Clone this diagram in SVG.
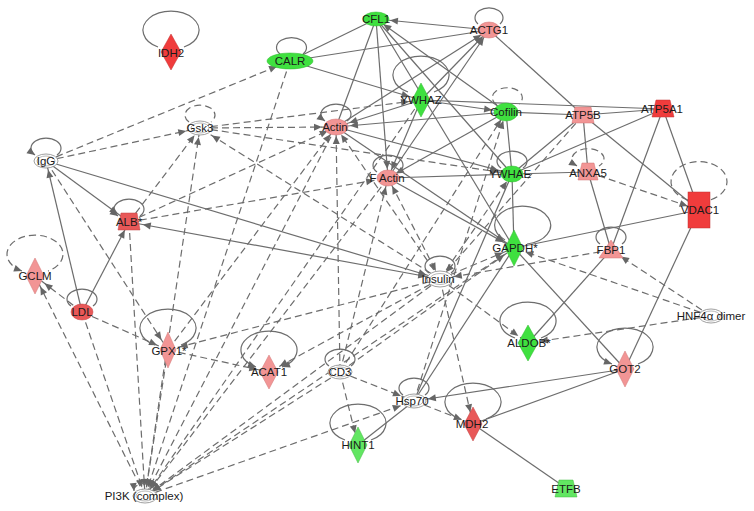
<svg xmlns="http://www.w3.org/2000/svg" width="754" height="511" viewBox="0 0 754 511">
<style>
.s{stroke:#6d6d6d;stroke-width:1.2;fill:none}
.d{stroke:#6d6d6d;stroke-width:1.2;fill:none;stroke-dasharray:7 4}
.lbl{font-family:"Liberation Sans",Arial,sans-serif;font-size:11.5px;fill:#1a1a1a;text-anchor:middle}
.g{fill:#3fe03f;stroke:#30b830;stroke-width:0.5}
.g2{fill:#62e662;stroke:#40b840;stroke-width:0.5}
.p{fill:#f29595;stroke:#d07474;stroke-width:0.5}
.r{fill:#f03c3c;stroke:#c03030;stroke-width:0.5}
.rm{fill:#e85858;stroke:#c04040;stroke-width:0.5}
.w{fill:#fff;stroke:#888;stroke-width:0.8}
.wi{fill:none;stroke:#9a9a9a;stroke-width:0.7}
.ah{fill:#666;stroke:none}
</style>
<defs>
<marker id="m0" markerUnits="userSpaceOnUse" markerWidth="30" markerHeight="10" refX="8" refY="3.5" orient="auto" overflow="visible"><path class="ah" d="M0,0 L8,3.5 L0,7 z"/></marker>
<marker id="m0s" markerUnits="userSpaceOnUse" markerWidth="30" markerHeight="10" refX="8" refY="3.5" orient="auto-start-reverse" overflow="visible"><path class="ah" d="M0,0 L8,3.5 L0,7 z"/></marker>
<marker id="m1" markerUnits="userSpaceOnUse" markerWidth="30" markerHeight="10" refX="17" refY="3.5" orient="auto" overflow="visible"><path class="ah" d="M0,0 L8,3.5 L0,7 z"/></marker>
<marker id="m1s" markerUnits="userSpaceOnUse" markerWidth="30" markerHeight="10" refX="17" refY="3.5" orient="auto-start-reverse" overflow="visible"><path class="ah" d="M0,0 L8,3.5 L0,7 z"/></marker>
<marker id="m2" markerUnits="userSpaceOnUse" markerWidth="30" markerHeight="10" refX="20" refY="3.5" orient="auto" overflow="visible"><path class="ah" d="M0,0 L8,3.5 L0,7 z"/></marker>
<marker id="m3" markerUnits="userSpaceOnUse" markerWidth="30" markerHeight="10" refX="22" refY="3.5" orient="auto" overflow="visible"><path class="ah" d="M0,0 L8,3.5 L0,7 z"/></marker>
<marker id="m3s" markerUnits="userSpaceOnUse" markerWidth="30" markerHeight="10" refX="22" refY="3.5" orient="auto-start-reverse" overflow="visible"><path class="ah" d="M0,0 L8,3.5 L0,7 z"/></marker>
</defs>
<rect width="754" height="511" fill="#fff"/>
<g id="connectors">
<line class="s" x1="290" y1="61" x2="376" y2="19"/>
<line class="s" x1="290" y1="61" x2="489" y2="30"/>
<line class="s" x1="290" y1="61" x2="421" y2="100" marker-end="url(#m2)"/>
<line class="s" x1="376" y1="19" x2="336" y2="127"/>
<line class="s" x1="376" y1="19" x2="388" y2="178" marker-end="url(#m1)"/>
<line class="s" x1="489" y1="30" x2="376" y2="19" marker-end="url(#m3)"/>
<line class="s" x1="506" y1="112" x2="376" y2="19" marker-end="url(#m1)"/>
<line class="s" x1="376" y1="19" x2="514" y2="248"/>
<line class="s" x1="376" y1="19" x2="512" y2="174"/>
<line class="s" x1="421" y1="100" x2="336" y2="127" marker-end="url(#m3)"/>
<line class="s" x1="421" y1="100" x2="489" y2="30" marker-end="url(#m1)"/>
<line class="s" x1="336" y1="127" x2="489" y2="30" marker-end="url(#m1)"/>
<line class="s" x1="388" y1="178" x2="489" y2="30" marker-end="url(#m1)"/>
<line class="s" x1="421" y1="100" x2="506" y2="112" marker-end="url(#m3)"/>
<line class="s" x1="421" y1="100" x2="663" y2="109"/>
<line class="s" x1="506" y1="112" x2="336" y2="127" marker-end="url(#m3)"/>
<line class="s" x1="421" y1="100" x2="388" y2="178" marker-end="url(#m1)"/>
<line class="s" x1="506" y1="112" x2="388" y2="178" marker-end="url(#m1)"/>
<line class="s" x1="336" y1="127" x2="512" y2="174" marker-end="url(#m3)"/>
<line class="s" x1="336" y1="127" x2="514" y2="248" marker-end="url(#m2)"/>
<line class="s" x1="388" y1="178" x2="514" y2="248" marker-end="url(#m2)"/>
<line class="s" x1="388" y1="178" x2="512" y2="174"/>
<line class="s" x1="506" y1="112" x2="512" y2="174"/>
<line class="s" x1="506" y1="112" x2="583" y2="115"/>
<line class="s" x1="583" y1="115" x2="663" y2="109"/>
<line class="s" x1="512" y1="174" x2="583" y2="115"/>
<line class="s" x1="512" y1="174" x2="663" y2="109"/>
<line class="s" x1="489" y1="30" x2="583" y2="115"/>
<line class="s" x1="512" y1="174" x2="588" y2="172"/>
<line class="s" x1="583" y1="115" x2="588" y2="172"/>
<line class="s" x1="588" y1="172" x2="611" y2="250"/>
<line class="s" x1="663" y1="109" x2="611" y2="250"/>
<line class="s" x1="663" y1="109" x2="699" y2="210"/>
<line class="s" x1="583" y1="115" x2="699" y2="210"/>
<line class="s" x1="512" y1="174" x2="514" y2="248"/>
<line class="s" x1="514" y1="248" x2="699" y2="210"/>
<line class="s" x1="514" y1="248" x2="625" y2="369"/>
<line class="s" x1="699" y1="210" x2="625" y2="369"/>
<line class="s" x1="611" y1="250" x2="528" y2="343"/>
<line class="s" x1="625" y1="369" x2="414" y2="401" marker-end="url(#m3)"/>
<line class="s" x1="625" y1="369" x2="473" y2="424"/>
<line class="s" x1="473" y1="424" x2="566" y2="488"/>
<line class="s" x1="358" y1="445" x2="414" y2="401"/>
<line class="s" x1="414" y1="401" x2="514" y2="248"/>
<line class="s" x1="414" y1="401" x2="512" y2="174"/>
<line class="s" x1="46" y1="161" x2="440" y2="279" marker-end="url(#m3)"/>
<line class="s" x1="129" y1="222" x2="440" y2="279" marker-start="url(#m3s)" marker-end="url(#m3)"/>
<line class="s" x1="46" y1="161" x2="129" y2="222" marker-end="url(#m3)"/>
<line class="s" x1="82" y1="312" x2="46" y2="161" marker-end="url(#m1)"/>
<line class="s" x1="82" y1="312" x2="129" y2="222" marker-end="url(#m1)"/>

<line class="d" x1="46" y1="161" x2="200" y2="128" marker-end="url(#m3)"/>
<line class="d" x1="46" y1="161" x2="290" y2="61" marker-end="url(#m3)"/>
<line class="d" x1="46" y1="161" x2="168" y2="350" marker-end="url(#m2)"/>
<line class="d" x1="129" y1="222" x2="200" y2="128" marker-end="url(#m1)"/>
<line class="d" x1="145" y1="496" x2="200" y2="128" marker-end="url(#m1)"/>
<line class="d" x1="440" y1="279" x2="200" y2="128" marker-end="url(#m3)"/>
<line class="d" x1="200" y1="128" x2="336" y2="127" marker-end="url(#m3)"/>
<line class="d" x1="200" y1="128" x2="421" y2="100" marker-end="url(#m2)"/>
<line class="d" x1="200" y1="128" x2="512" y2="174" marker-end="url(#m3)"/>
<line class="d" x1="82" y1="312" x2="35" y2="276" marker-end="url(#m2)"/>
<line class="d" x1="145" y1="496" x2="35" y2="276" marker-end="url(#m2)"/>
<line class="d" x1="82" y1="312" x2="168" y2="350" marker-end="url(#m2)"/>
<line class="d" x1="82" y1="312" x2="145" y2="496" marker-end="url(#m1)"/>
<line class="d" x1="129" y1="222" x2="145" y2="496" marker-end="url(#m1)"/>
<line class="d" x1="129" y1="222" x2="388" y2="178" marker-end="url(#m3)"/>
<line class="d" x1="290" y1="61" x2="145" y2="496" marker-end="url(#m1)"/>
<line class="d" x1="336" y1="127" x2="145" y2="496" marker-end="url(#m1)"/>
<line class="d" x1="388" y1="178" x2="145" y2="496" marker-end="url(#m1)"/>
<line class="d" x1="440" y1="279" x2="145" y2="496" marker-end="url(#m1)"/>
<line class="d" x1="514" y1="248" x2="145" y2="496" marker-end="url(#m1)"/>
<line class="d" x1="145" y1="496" x2="414" y2="401" marker-end="url(#m3)"/>
<line class="d" x1="168" y1="350" x2="145" y2="496" marker-end="url(#m1)"/>
<line class="d" x1="421" y1="100" x2="145" y2="496" marker-end="url(#m1)"/>
<line class="d" x1="340" y1="372" x2="145" y2="496" marker-end="url(#m1)"/>
<line class="d" x1="440" y1="279" x2="388" y2="178" marker-start="url(#m1s)" marker-end="url(#m1)"/>
<line class="d" x1="440" y1="279" x2="514" y2="248" marker-end="url(#m2)"/>
<line class="d" x1="611" y1="250" x2="440" y2="279" marker-end="url(#m3)"/>
<line class="d" x1="440" y1="279" x2="473" y2="424" marker-end="url(#m2)"/>
<line class="d" x1="440" y1="279" x2="528" y2="343" marker-end="url(#m2)"/>
<line class="d" x1="440" y1="279" x2="168" y2="350" marker-end="url(#m2)"/>
<line class="d" x1="440" y1="279" x2="269" y2="372" marker-end="url(#m2)"/>
<line class="d" x1="440" y1="279" x2="512" y2="174" marker-end="url(#m1)"/>
<line class="d" x1="440" y1="279" x2="336" y2="127" marker-end="url(#m1)"/>
<line class="d" x1="340" y1="372" x2="336" y2="127" marker-end="url(#m1)"/>
<line class="d" x1="340" y1="372" x2="388" y2="178" marker-end="url(#m1)"/>
<line class="d" x1="340" y1="372" x2="506" y2="112" marker-end="url(#m1)"/>
<line class="d" x1="340" y1="372" x2="414" y2="401" marker-end="url(#m3)"/>
<line class="d" x1="340" y1="372" x2="358" y2="445" marker-end="url(#m2)"/>
<line class="d" x1="340" y1="372" x2="514" y2="248" marker-end="url(#m2)"/>
<line class="d" x1="414" y1="401" x2="473" y2="424" marker-end="url(#m2)"/>
<line class="d" x1="711" y1="316" x2="514" y2="248" marker-end="url(#m2)"/>
<line class="d" x1="711" y1="316" x2="611" y2="250" marker-end="url(#m2)"/>
<line class="d" x1="711" y1="316" x2="528" y2="343" marker-end="url(#m2)"/>
<line class="d" x1="588" y1="172" x2="699" y2="210" marker-end="url(#m2)"/>
<line class="d" x1="583" y1="115" x2="440" y2="279" marker-end="url(#m1)"/>
<line class="d" x1="414" y1="401" x2="506" y2="112" marker-end="url(#m1)"/>
<line class="d" x1="129" y1="222" x2="336" y2="127" marker-end="url(#m1)"/>
<line class="d" x1="168" y1="350" x2="336" y2="127" marker-end="url(#m1)"/>
<line class="d" x1="168" y1="350" x2="269" y2="372" marker-end="url(#m2)"/>

<path class="s" d="M158,47 A28,19 0 1,1 184,47"/>
<path class="s" d="M35,155 A15,10 0 1,1 57,155" marker-start="url(#m0s)"/>
<path class="d" d="M189,122 A15,10 0 1,1 211,122"/>
<path class="s" d="M280,54 A15,10 0 1,1 303,54"/>
<path class="s" d="M478,24 A14,10 0 1,1 500,24"/>
<path class="s" d="M408,92 A28,19 0 1,1 434,92"/>
<path class="s" d="M325,121 A15,10 0 1,1 347,121" marker-start="url(#m0s)"/>
<path class="s" d="M377,172 A15,10 0 1,1 399,172"/>
<path class="s" d="M501,168 A15,10 0 1,1 523,168"/>
<path class="d" d="M497,105 A15,10 0 1,1 519,104"/>
<path class="d" d="M577,166 A16,10 0 1,1 599,166" marker-start="url(#m0s)"/>
<path class="d" d="M688,200 A28,20 0 1,1 710,200"/>
<path class="s" d="M505,240 A28,19 0 1,1 527,244"/>
<path class="s" d="M600,244 A15,10 0 1,1 622,244"/>
<path class="s" d="M429,273 A15,10 0 1,1 451,273"/>
<path class="s" d="M515,338 A28,19 0 1,1 541,338"/>
<path class="s" d="M612,364 A28,19 0 1,1 638,364" marker-start="url(#m0s)"/>
<path class="s" d="M460,419 A28,19 0 1,1 486,419"/>
<path class="s" d="M403,395 A15,10 0 1,1 425,395"/>
<path class="s" d="M345,440 A28,19 0 1,1 371,440"/>
<path class="s" d="M329,366 A15,10 0 1,1 351,366"/>
<path class="s" d="M256,367 A28,19 0 1,1 282,367" marker-start="url(#m0s)" marker-end="url(#m0)"/>
<path class="s" d="M155,345 A28,19 0 1,1 181,345"/>
<path class="s" d="M71,306 A15,10 0 1,1 93,306"/>
<path class="d" d="M22,271 A28,19 0 1,1 48,271" marker-start="url(#m0s)"/>
<path class="s" d="M118,216 A15,10 0 1,1 140,216" marker-start="url(#m0s)"/>
<path class="d" d="M134,491 A10,7 0 1,1 154,490" marker-start="url(#m0s)"/>
</g>

<g id="node-IDH2"><polygon class="r" points="171,34 181,52 171,70 161,52"/><text class="lbl" x="171" y="57">IDH2</text></g>
<g id="node-Gsk3"><ellipse class="w" cx="200" cy="128" rx="12" ry="7"/><ellipse class="wi" cx="200" cy="128" rx="9" ry="5"/><text class="lbl" x="200" y="132">Gsk3</text></g>
<g id="node-IgG"><ellipse class="w" cx="46" cy="161" rx="12" ry="7"/><ellipse class="wi" cx="46" cy="161" rx="9" ry="5"/><text class="lbl" x="46" y="165">IgG</text></g>
<g id="node-CALR"><ellipse class="g" cx="290" cy="61" rx="23" ry="8"/><text class="lbl" x="290" y="65">CALR</text></g>
<g id="node-CFL1"><ellipse class="g" cx="376" cy="19" rx="13" ry="7"/><text class="lbl" x="376" y="23">CFL1</text></g>
<g id="node-ACTG1"><ellipse class="p" cx="489" cy="30" rx="11" ry="8"/><text class="lbl" x="489" y="34">ACTG1</text></g>
<g id="node-YWHAZ"><polygon class="g" points="421,83 430,100 421,117 412,100"/><text class="lbl" x="421" y="104">YWHAZ</text></g>
<g id="node-Actin"><ellipse class="p" cx="336" cy="127" rx="12" ry="8"/><text class="lbl" x="335" y="131">Actin</text></g>
<g id="node-Cofilin"><ellipse class="g" cx="506" cy="112" rx="12" ry="9"/><text class="lbl" x="506" y="116">Cofilin</text></g>
<g id="node-FActin"><ellipse class="p" cx="388" cy="178" rx="11" ry="8"/><text class="lbl" x="387" y="182">F Actin</text></g>
<g id="node-YWHAE"><ellipse class="g" cx="512" cy="174" rx="11" ry="8"/><text class="lbl" x="510" y="178">YWHAE</text></g>
<g id="node-ATP5B"><polygon class="p" points="575,107 591,107 594,123 572,123"/><text class="lbl" x="583" y="119">ATP5B</text></g>
<g id="node-ATP5A1"><polygon class="r" points="656,100 670,100 674,117 652,117"/><text class="lbl" x="662" y="113">ATP5A1</text></g>
<g id="node-ANXA5"><polygon class="p" points="582,163 594,163 598,180 578,180"/><text class="lbl" x="588" y="177">ANXA5</text></g>
<g id="node-VDAC1"><rect class="r" x="688" y="192" width="22" height="36"/><text class="lbl" x="700" y="214">VDAC1</text></g>
<g id="node-GAPDH"><polygon class="g" points="514,230 523,248 514,266 505,248"/><text class="lbl" x="515" y="252">GAPDH*</text></g>
<g id="node-FBP1"><polygon class="p" points="611,240 623,258 599,258"/><text class="lbl" x="611" y="254">FBP1</text></g>
<g id="node-Insulin"><ellipse class="w" cx="440" cy="279" rx="13" ry="8"/><ellipse class="wi" cx="440" cy="279" rx="10" ry="5.5"/><text class="lbl" x="438" y="283">Insulin</text></g>
<g id="node-HNF4a"><ellipse class="w" cx="711" cy="316" rx="12" ry="7"/><ellipse class="wi" cx="711" cy="316" rx="9" ry="5"/><text class="lbl" x="711" y="320">HNF4α dimer</text></g>
<g id="node-ALDOB"><polygon class="g" points="528,325 538,343 528,361 518,343"/><text class="lbl" x="529" y="347">ALDOB*</text></g>
<g id="node-GOT2"><polygon class="p" points="625,351 634,369 625,387 616,369"/><text class="lbl" x="625" y="373">GOT2</text></g>
<g id="node-MDH2"><polygon class="rm" points="473,407 482,424 473,441 464,424"/><text class="lbl" x="472" y="428">MDH2</text></g>
<g id="node-Hsp70"><ellipse class="w" cx="414" cy="401" rx="12" ry="7"/><ellipse class="wi" cx="414" cy="401" rx="9" ry="5"/><text class="lbl" x="412" y="405">Hsp70</text></g>
<g id="node-HINT1"><polygon class="g2" points="358,427 367,445 358,463 349,445"/><text class="lbl" x="358" y="449">HINT1</text></g>
<g id="node-CD3"><ellipse class="w" cx="340" cy="372" rx="12" ry="7"/><ellipse class="wi" cx="340" cy="372" rx="9" ry="5"/><text class="lbl" x="340" y="376">CD3</text></g>
<g id="node-ACAT1"><polygon class="p" points="269,355 278,372 269,389 260,372"/><text class="lbl" x="269" y="376">ACAT1</text></g>
<g id="node-GPX1"><polygon class="p" points="168,332 176,350 168,368 160,350"/><text class="lbl" x="169" y="355">GPX1*</text></g>
<g id="node-LDL"><ellipse class="rm" cx="82" cy="312" rx="11" ry="8"/><text class="lbl" x="82" y="316">LDL</text></g>
<g id="node-GCLM"><polygon class="p" points="35,258 44,276 35,294 26,276"/><text class="lbl" x="35" y="280">GCLM</text></g>
<g id="node-ALB"><polygon class="rm" points="121,213 137,213 140,230 118,230"/><text class="lbl" x="129" y="226">ALB*</text></g>
<g id="node-PI3K"><ellipse class="w" cx="145" cy="496" rx="12" ry="7"/><ellipse class="wi" cx="145" cy="496" rx="9" ry="5"/><text class="lbl" x="144" y="500">PI3K (complex)</text></g>
<g id="node-ETFB"><polygon class="g2" points="559,480 573,480 577,497 555,497"/><text class="lbl" x="566" y="493">ETFB</text></g>
</svg>
